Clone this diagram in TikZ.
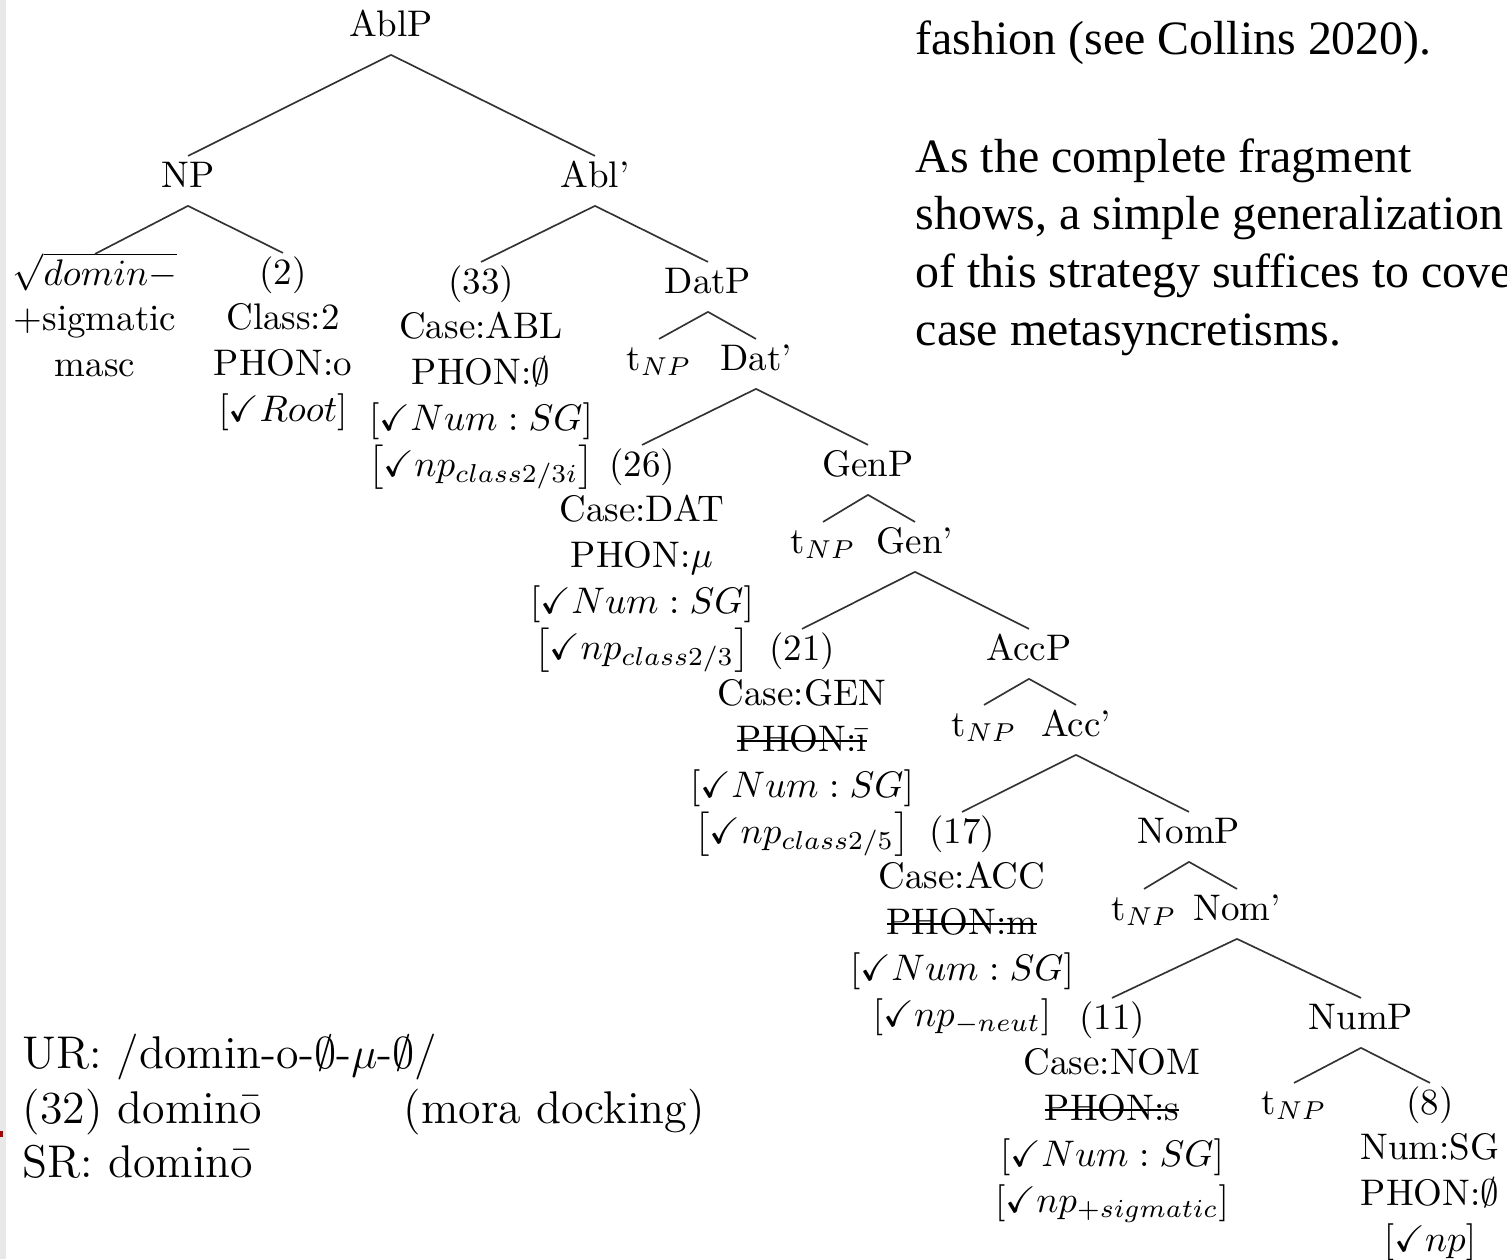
\documentclass[tikz,border=0pt]{standalone}
\usepackage{amssymb}
\usepackage{fontspec}
\newfontfamily\bodyserif{Liberation Serif}

% struck-through feature value
\newcommand\strike[1]{\begingroup\setbox0\hbox{#1}\rlap{\rule[2.6pt]{\wd0}{0.5pt}}\box0\endgroup}

% a column of centred lines hanging from one tree position
\newcommand\leafstack[4]{%
  \foreach \t [count=\i] in {#4}{\node[lbl] (#1-\i) at (#2,{#3+(\i-1)*45.8}) {\t};}}

% branch from a mother label down to a daughter label
\newcommand\branch[2]{\draw[branchline] ([yshift=-5.1pt]#1.base) -- ([yshift=8.4pt]#2.base);}

\begin{document}
\begin{tikzpicture}[x=0.2703pt,y=-0.2703pt,
  lbl/.style={anchor=base,inner sep=0pt},
  branchline/.style={draw=black!80,line width=0.45pt},
  prose/.style={anchor=base west,inner sep=0pt,font=\bodyserif\fontsize{12.94}{15.6}\selectfont},
  example/.style={anchor=base west,inner sep=0pt,font=\fontsize{12.4}{15}\selectfont}]
\clip (0,0) rectangle (1507,1259);
\fill[white] (0,0) rectangle (1507,1259);
\fill[black!9] (0,0) rectangle (6,1259);
\fill[red!70!black] (0,1131) rectangle (3,1137);

% ---- tree labels ----
\node[lbl] (ablp) at (391,36) {AblP};
\node[lbl] (np)   at (188,187) {NP};
\node[lbl] (ablb) at (595,187) {Abl'};

\leafstack{root}{95}{285}{$\sqrt{domin-}$,+sigmatic,masc}
\leafstack{two}{283}{284}{(2),Class:2,PHON:o,$[\checkmark Root]$}

\leafstack{abl}{481}{293}{(33),Case:ABL,PHON:$\emptyset$,$[\checkmark Num:SG]$,$\left[\checkmark np_{class2/3i}\right]$}
\node[lbl] (datp) at (708,293) {DatP};
\node[lbl] (tdat) at (659,370) {t$_{NP}$};
\node[lbl] (datb) at (756,370) {Dat'};

\leafstack{dat}{642}{476}{(26),Case:DAT,PHON:$\mu$,$[\checkmark Num:SG]$,$\left[\checkmark np_{class2/3}\right]$}
\node[lbl] (genp) at (868,476) {GenP};
\node[lbl] (tgen) at (823,553) {t$_{NP}$};
\node[lbl] (genb) at (915,553) {Gen'};

\leafstack{gen}{802}{660}{(21),Case:GEN,\strike{PHON:\={\i}},$[\checkmark Num:SG]$,$\left[\checkmark np_{class2/5}\right]$}
\node[lbl] (accp) at (1029,660) {AccP};
\node[lbl] (tacc) at (984,736) {t$_{NP}$};
\node[lbl] (accb) at (1076,736) {Acc'};

\leafstack{acc}{962}{843}{(17),Case:ACC,\strike{PHON:m},$[\checkmark Num:SG]$,$\left[\checkmark np_{-neut}\right]$}
\node[lbl] (nomp) at (1189,843) {NomP};
\node[lbl] (tnom) at (1144,920) {t$_{NP}$};
\node[lbl] (nomb) at (1237,920) {Nom'};

\leafstack{nom}{1112}{1029}{(11),Case:NOM,\strike{PHON:s},$[\checkmark Num:SG]$,$\left[\checkmark np_{+sigmatic}\right]$}
\node[lbl] (nump) at (1361,1029) {NumP};
\node[lbl] (tnum) at (1294,1114) {t$_{NP}$};
\leafstack{num}{1430}{1114}{(8),Num:SG,PHON:$\emptyset$,$[\checkmark np]$}

% ---- branches ----
\branch{ablp}{np}
\branch{ablp}{ablb}
\branch{np}{root-1}
\branch{np}{two-1}
\branch{ablb}{abl-1}
\branch{ablb}{datp}
\branch{datp}{tdat}
\branch{datp}{datb}
\branch{datb}{dat-1}
\branch{datb}{genp}
\branch{genp}{tgen}
\branch{genp}{genb}
\branch{genb}{gen-1}
\branch{genb}{accp}
\branch{accp}{tacc}
\branch{accp}{accb}
\branch{accb}{acc-1}
\branch{accb}{nomp}
\branch{nomp}{tnom}
\branch{nomp}{nomb}
\branch{nomb}{nom-1}
\branch{nomb}{nump}
\branch{nump}{tnum}
\branch{nump}{num-1}

% ---- derivation below the tree ----
\node[example] (ur) at (22,1068) {UR: /domin-o-$\emptyset$-$\mu$-$\emptyset$/};
\node[example] (step32) at (22,1123) {(32) domin\={o}};
\node[example] (mora) at (403,1123) {(mora docking)};
\node[example] (sr) at (22,1177) {SR: domin\={o}};

% ---- running text on the right ----
\node[prose] (p1) at (915,54) {fashion (see Collins 2020).};
\foreach \t [count=\i] in {As the complete fragment,{shows, a simple generalization},of this strategy suffices to cover,case metasyncretisms.}
  {\node[prose] (p2-\i) at (915,{172+(\i-1)*57.7}) {\t};}
\end{tikzpicture}
\end{document}
